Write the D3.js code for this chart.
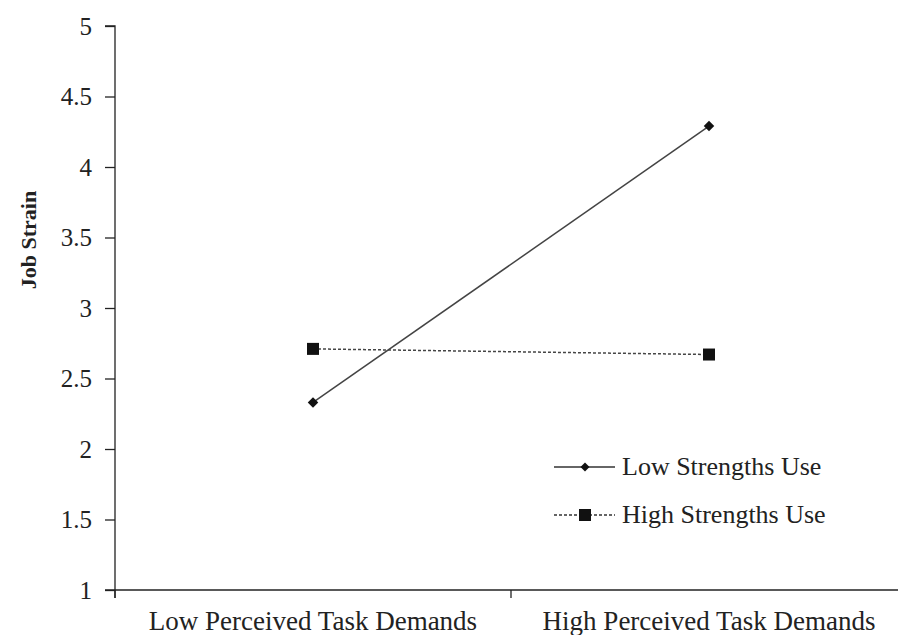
<!DOCTYPE html>
<html><head><meta charset="utf-8">
<script src="https://cdn.jsdelivr.net/npm/d3@7"></script>
<style>body{margin:0;background:#fff}svg{display:block}</style>
</head><body>
<script>
const categories = ["Low Perceived Task Demands", "High Perceived Task Demands"];
const seriesNames = ["Low Strengths Use", "High Strengths Use"];
const lowStrengths = [2.33, 4.29];
const highStrengths = [2.71, 2.67];
const yTicks = [1, 1.5, 2, 2.5, 3, 3.5, 4, 4.5, 5];

const FONT = "'Liberation Serif', 'DejaVu Serif', serif";
const W = 898, H = 635;
const svg = d3.select("body").append("svg").attr("width", W).attr("height", H)
  .style("font-family", FONT);
const x = d3.scaleBand().domain(categories).range([115, 907]);
const y = d3.scaleLinear().domain([1, 5]).range([590, 26]);

// y axis
const ya = svg.append("g").attr("transform", "translate(115,0)")
  .call(d3.axisLeft(y).tickValues(yTicks).tickSize(10).tickPadding(13).tickFormat(d => String(d)));
ya.attr("font-family", null);
ya.select(".domain").attr("d", `M-10,${y(5)}H0V${y(1)+8}`).attr("stroke", "#222").attr("stroke-width", 1.3);
ya.selectAll(".tick line").attr("stroke", "#222").attr("stroke-width", 1.3);
ya.selectAll(".tick text").style("font-size", "25px").style("font-family", FONT).attr("fill", "#222");

// x axis
const xa = svg.append("g").attr("transform", `translate(0,${y(1)})`)
  .call(d3.axisBottom(x).tickSize(0));
xa.attr("font-family", null);
xa.select(".domain").attr("d", `M105,0H${W}`).attr("stroke", "#222").attr("stroke-width", 1.3);
xa.selectAll(".tick text").style("font-size", "27px").style("font-family", FONT).attr("fill", "#222").attr("y", 40).attr("dy", 0);
const bounds = [x(categories[0]), x(categories[1]), x(categories[1]) + x.bandwidth()];
xa.selectAll(".bt").data(bounds).join("line").attr("class", "bt")
  .attr("x1", d => d).attr("x2", d => d).attr("y1", 0).attr("y2", 8)
  .attr("stroke", "#222").attr("stroke-width", 1.3);

// y label
svg.append("text").attr("transform", `translate(36,240) rotate(-90)`)
  .attr("text-anchor", "middle").style("font-family", FONT).style("font-size", "22px").style("font-weight", "bold").attr("fill", "#222").text("Job Strain");

const cx = d => x(d) + x.bandwidth() / 2;
const line = d3.line().x(d => cx(d.c)).y(d => y(d.v));
const lowData = categories.map((c, i) => ({c, v: lowStrengths[i]}));
const highData = categories.map((c, i) => ({c, v: highStrengths[i]}));

svg.append("path").datum(lowData).attr("d", line).attr("fill", "none").attr("stroke", "#444").attr("stroke-width", 1.5);
svg.append("path").datum(highData).attr("d", line).attr("fill", "none").attr("stroke", "#444").attr("stroke-width", 1.5).attr("stroke-dasharray", "3,2");

svg.selectAll(".dm").data(lowData).join("path").attr("class", "dm")
  .attr("d", d3.symbol().type(d3.symbolSquare).size(55))
  .attr("transform", d => `translate(${cx(d.c)},${y(d.v)}) rotate(45)`).attr("fill", "#111");
svg.selectAll(".sq").data(highData).join("rect").attr("class", "sq")
  .attr("x", d => cx(d.c) - 6).attr("y", d => y(d.v) - 6).attr("width", 12).attr("height", 12).attr("fill", "#111");

// legend
const lg = svg.append("g");
const rows = [{name: seriesNames[0], y: 467, dash: null, m: "d"}, {name: seriesNames[1], y: 515, dash: "3,2", m: "s"}];
rows.forEach(r => {
  lg.append("line").attr("x1", 554).attr("x2", 615).attr("y1", r.y).attr("y2", r.y)
    .attr("stroke", "#333").attr("stroke-width", 1.5).attr("stroke-dasharray", r.dash);
  if (r.m === "d") lg.append("path").attr("d", d3.symbol().type(d3.symbolSquare).size(40)).attr("transform", `translate(585,${r.y}) rotate(45)`).attr("fill", "#111");
  else lg.append("rect").attr("x", 579).attr("y", r.y - 6).attr("width", 12).attr("height", 12).attr("fill", "#111");
  lg.append("text").attr("x", 622).attr("y", r.y + 8).style("font-family", FONT).style("font-size", "26px").attr("fill", "#222").text(r.name);
});
</script>
</body></html>
